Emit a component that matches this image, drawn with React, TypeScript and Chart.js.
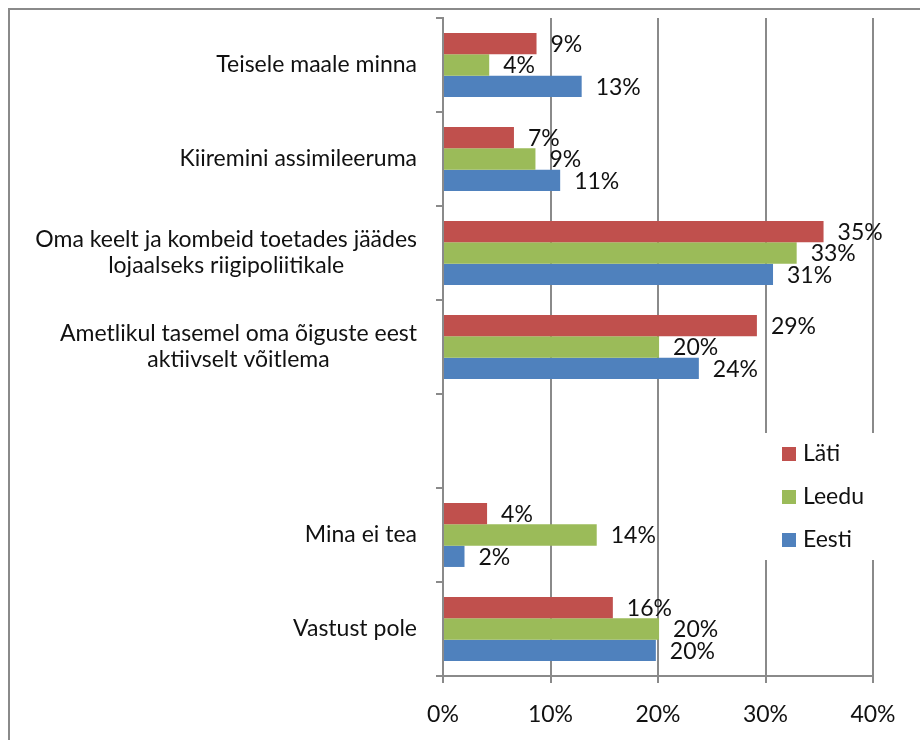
import React, { useEffect, useRef } from "react";
import { Chart, registerables } from "chart.js";

Chart.register(...registerables);

const categories: string[][] = [
  ["Teisele maale minna"],
  ["Kiiremini assimileeruma"],
  ["Oma keelt ja kombeid toetades jäädes", "lojaalseks riigipoliitikale"],
  ["Ametlikul tasemel oma õiguste eest", "aktiivselt võitlema"],
  [""],
  ["Mina ei tea"],
  ["Vastust pole"],
];

const seriesNames = ["Läti", "Leedu", "Eesti"];
const seriesColors = ["#C0504D", "#9BBB59", "#4F81BD"];

const latiValues: (number | null)[] = [8.7, 6.6, 35.4, 29.2, null, 4.1, 15.8];
const leeduValues: (number | null)[] = [4.3, 8.6, 32.9, 20.1, null, 14.3, 20.1];
const eestiValues: (number | null)[] = [12.9, 10.9, 30.7, 23.8, null, 2.0, 19.8];

const xTicks = [0, 10, 20, 30, 40];

const FONT = "Lato, 'Open Sans', sans-serif";
const FONT_SIZE = 23;
const FONT_WEIGHT = "400";
const AXIS_GRAY = "#8a8a8a";

export default function App() {
  const canvasRef = useRef<HTMLCanvasElement | null>(null);

  useEffect(() => {
    document.body.style.margin = "0";
    const canvas = canvasRef.current;
    if (!canvas) return;

    const fontStr = `${FONT_WEIGHT} ${FONT_SIZE}px ${FONT}`;

    const frame = {
      id: "frame",
      beforeDraw(chart: any) {
        const ctx = chart.ctx;
        ctx.save();
        ctx.fillStyle = "#ffffff";
        ctx.fillRect(0, 0, chart.width, chart.height);
        ctx.strokeStyle = AXIS_GRAY;
        ctx.lineWidth = 2;
        ctx.beginPath();
        ctx.moveTo(9, chart.height);
        ctx.lineTo(9, 9);
        ctx.lineTo(chart.width, 9);
        ctx.stroke();
        ctx.restore();
      },
    };

    const catLabels = {
      id: "catLabels",
      afterDraw(chart: any) {
        const ctx = chart.ctx;
        const y = chart.scales.y;
        const right = chart.chartArea.left - 26;
        const lineH = 26;
        ctx.save();
        ctx.font = fontStr;
        ctx.fillStyle = "#111";
        ctx.textBaseline = "middle";
        ctx.textAlign = "center";
        categories.forEach((lines, i) => {
          const cy = y.getPixelForValue(i);
          const w = Math.max(...lines.map((l) => ctx.measureText(l).width));
          const cx = right - w / 2;
          const top = cy - ((lines.length - 1) * lineH) / 2;
          lines.forEach((l, j) => ctx.fillText(l, cx, top + j * lineH));
        });
        ctx.restore();
      },
    };

    const valueLabels = {
      id: "valueLabels",
      afterDatasetsDraw(chart: any) {
        const ctx = chart.ctx;
        ctx.save();
        ctx.font = fontStr;
        ctx.fillStyle = "#111";
        ctx.textBaseline = "middle";
        ctx.textAlign = "left";
        chart.data.datasets.forEach((ds: any, di: number) => {
          const meta = chart.getDatasetMeta(di);
          meta.data.forEach((el: any, i: number) => {
            const v = ds.data[i];
            if (v === null || v === undefined) return;
            ctx.fillText(Math.round(v) + "%", el.x + 14, el.y + 1);
          });
        });
        ctx.restore();
      },
    };

    const legendBox = {
      id: "legendBox",
      afterDraw(chart: any) {
        const ctx = chart.ctx;
        const area = chart.chartArea;
        const x0 = area.right - 113;
        const y0 = 433;
        ctx.save();
        ctx.fillStyle = "#ffffff";
        ctx.fillRect(x0, y0, 125, 127);
        ctx.font = fontStr;
        ctx.textBaseline = "middle";
        ctx.textAlign = "left";
        chart.data.datasets.forEach((ds: any, i: number) => {
          const cy = y0 + 21 + i * 43;
          ctx.fillStyle = ds.backgroundColor;
          ctx.fillRect(x0 + 22, cy - 7, 14, 14);
          ctx.fillStyle = "#111";
          ctx.fillText(ds.label, x0 + 43, cy);
        });
        ctx.restore();
      },
    };

    const valuesList = [latiValues, leeduValues, eestiValues];

    const chart = new Chart(canvas, {
      type: "bar",
      data: {
        labels: categories.map((c) => c.join(" ")),
        datasets: seriesNames.map((name, i) => ({
          label: name,
          data: valuesList[i],
          backgroundColor: seriesColors[i],
          borderWidth: 0,
          categoryPercentage: 0.68,
          barPercentage: 1.0,
        })),
      },
      options: {
        indexAxis: "y",
        responsive: false,
        animation: false,
        maintainAspectRatio: false,
        layout: { padding: { left: 0, top: 18, right: 47, bottom: 0 } },
        plugins: {
          legend: { display: false },
          tooltip: { enabled: false },
        },
        scales: {
          x: {
            min: 0,
            max: 40,
            afterBuildTicks(scale: any) {
              scale.ticks = xTicks.map((v) => ({ value: v }));
            },
            afterFit(scale: any) {
              scale.height = 64;
            },
            ticks: {
              callback: (v: any) => v + "%",
              color: "#111",
              font: { family: FONT, size: FONT_SIZE, weight: FONT_WEIGHT },
              padding: 18,
              maxRotation: 0,
            },
            grid: {
              color: AXIS_GRAY,
              lineWidth: 2,
              tickLength: 7,
              drawTicks: true,
            },
            border: { color: AXIS_GRAY, width: 2 },
          },
          y: {
            afterFit(scale: any) {
              scale.width = 443;
            },
            ticks: { display: false },
            grid: {
              offset: true,
              drawOnChartArea: false,
              drawTicks: true,
              tickLength: 7,
              color: AXIS_GRAY,
              lineWidth: 2,
            },
            border: { color: AXIS_GRAY, width: 2 },
          },
        },
      },
      plugins: [frame, valueLabels, legendBox, catLabels],
    });

    return () => chart.destroy();
  }, []);

  return (
    <div style={{ width: 920, height: 740 }}>
      <canvas ref={canvasRef} width={920} height={740} style={{ display: "block" }} />
    </div>
  );
}
